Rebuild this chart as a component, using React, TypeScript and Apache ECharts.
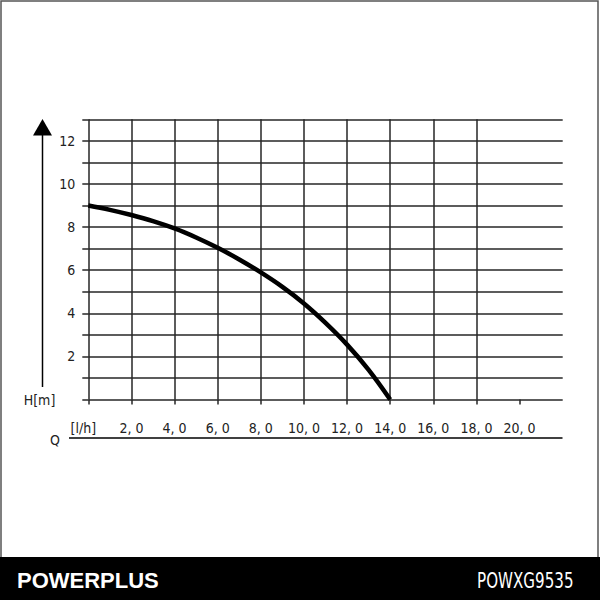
import React, { useEffect, useRef } from "react";
import * as echarts from "echarts";

// Pump curve: flow Q vs head H
const flowQ = [0, 1, 2, 3, 4, 5, 6, 7, 8, 9, 10, 11, 12, 13, 14];
const headH = [9.0, 8.8, 8.56, 8.28, 7.94, 7.52, 7.04, 6.5, 5.9, 5.23, 4.46, 3.56, 2.55, 1.38, 0];

const xTickValues = [0, 2, 4, 6, 8, 10, 12, 14, 16, 18, 20];
const xTickLabels = ["[l/h]", "2, 0", "4, 0", "6, 0", "8, 0", "10, 0", "12, 0", "14, 0", "16, 0", "18, 0", "20, 0"];
const yTickValues = [0, 2, 4, 6, 8, 10, 12];
const yTickLabels = ["H[m]", "2", "4", "6", "8", "10", "12"];

const brand = "POWERPLUS";
const model = "POWXG9535";

const FONT = "'Liberation Sans Narrow', 'DejaVu Sans Condensed', sans-serif";

export default function App() {
  const ref = useRef<HTMLDivElement>(null);

  useEffect(() => {
    if (!ref.current) return;
    const chart = echarts.init(ref.current, undefined, { renderer: "svg" });
    const gridLine = { color: "#262626", width: 1.5 };
    const option: any = {
      animation: false,
      backgroundColor: "#fff",
      grid: {
        left: 88.3,
        right: 37.3,
        top: 119.3,
        bottom: 200.4,
        containLabel: false,
        outerBoundsMode: "none",
      },
      xAxis: {
        type: "value",
        min: 0,
        max: 22,
        interval: 2,
        axisLine: { show: false },
        axisTick: {
          show: true,
          length: 5,
          inside: false,
          lineStyle: gridLine,
          customValues: xTickValues,
        },
        splitLine: { show: true, showMaxLine: false, lineStyle: gridLine },
        axisLabel: {
          customValues: xTickValues,
          margin: 21,
          fontSize: 14,
          fontFamily: FONT,
          color: "#222",
          formatter: (v: number) => {
            const i = xTickValues.indexOf(v);
            if (i < 0) return "";
            return i === 0 ? "{u|" + xTickLabels[i] + "}" : xTickLabels[i];
          },
          rich: {
            u: { fontSize: 14, fontFamily: FONT, color: "#222", padding: [0, 10, 0, 0] },
          },
        },
      },
      yAxis: {
        type: "value",
        min: 0,
        max: 13,
        interval: 1,
        axisLine: { show: false },
        axisTick: { show: true, length: 6, inside: false, lineStyle: gridLine },
        splitLine: { show: true, lineStyle: gridLine },
        axisLabel: {
          customValues: yTickValues,
          margin: 13,
          fontSize: 14,
          fontFamily: FONT,
          color: "#222",
          formatter: (v: number) => {
            const i = yTickValues.indexOf(v);
            if (i < 0) return "";
            return i === 0 ? "{h|" + yTickLabels[i] + "}" : yTickLabels[i];
          },
          rich: {
            h: { fontSize: 14, fontFamily: FONT, color: "#222", padding: [0, 20, 0, 0] },
          },
        },
      },
      series: [
        {
          type: "line",
          data: flowQ.map((q, i) => [q, headH[i]]),
          smooth: 0.4,
          showSymbol: false,
          lineStyle: { color: "#000", width: 4.5 },
          z: 5,
        },
      ],
      graphic: [
        {
          type: "rect",
          shape: { x: 1, y: 1, width: 597, height: 597 },
          style: { fill: "none", stroke: "#555", lineWidth: 1.5 },
          silent: true,
        },
        {
          type: "polygon",
          shape: { points: [[33, 135.5], [52, 135.5], [42.5, 119]] },
          style: { fill: "#000" },
        },
        {
          type: "line",
          shape: { x1: 42.5, y1: 135, x2: 42.5, y2: 387 },
          style: { stroke: "#000", lineWidth: 1.5 },
        },
        {
          type: "line",
          shape: { x1: 69, y1: 438, x2: 562.5, y2: 438 },
          style: { stroke: "#000", lineWidth: 1.5 },
        },
        {
          type: "text",
          x: 55,
          y: 440,
          style: {
            text: "Q",
            fontSize: 14,
            fontFamily: FONT,
            fill: "#222",
            align: "center",
            verticalAlign: "middle",
          },
        },
        {
          type: "rect",
          shape: { x: 0, y: 557, width: 600, height: 43 },
          style: { fill: "#000" },
        },
        {
          type: "text",
          x: 17,
          y: 580,
          style: {
            text: brand,
            fontSize: 22,
            fontWeight: "bold",
            fontFamily: "'Liberation Sans', Arial, sans-serif",
            fill: "#fff",
            align: "left",
            verticalAlign: "middle",
          },
        },
        {
          type: "text",
          x: 573.5,
          y: 580.5,
          scaleX: 0.8,
          style: {
            text: model,
            fontSize: 21,
            fontFamily: FONT,
            fill: "#fff",
            align: "right",
            verticalAlign: "middle",
          },
        },
      ],
    };
    chart.setOption(option);
    return () => chart.dispose();
  }, []);

  return (
    <div
      ref={ref}
      style={{ position: "absolute", left: 0, top: 0, width: 600, height: 600, background: "#fff" }}
    />
  );
}
